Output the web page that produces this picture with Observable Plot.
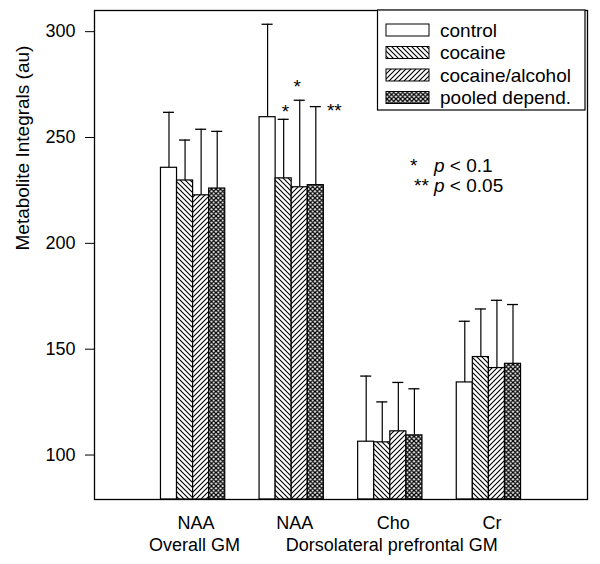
<!DOCTYPE html>
<html><head><meta charset="utf-8">
<script src="https://cdn.jsdelivr.net/npm/d3@7"></script>
<script src="https://cdn.jsdelivr.net/npm/@observablehq/plot@0.6"></script>
<style>
body{margin:0;background:#fff}
svg{font-family:"Liberation Sans",Arial,Helvetica,sans-serif}
</style>
</head><body><div id="chart"></div>
<script>
// ---- data ----
const groupLabels = ["NAA", "NAA", "Cho", "Cr"];
const regionLabels = ["Overall GM", "Dorsolateral prefrontal GM"];
const regionGroup = [1, 3];           // group position each region label is centred under
const series = ["control", "cocaine", "cocaine/alcohol", "pooled depend."];
const controlMeans = [235.7, 259.6, 106.3, 134.3];
const cocaineMeans = [229.7, 230.7, 106.0, 146.3];
const cocAlcMeans  = [222.7, 226.5, 111.2, 141.1];
const pooledMeans  = [225.9, 227.5, 109.3, 143.1];
const controlSD = [26.2, 43.9, 31.0, 28.9];
const cocaineSD = [19.1, 27.9, 19.1, 22.7];
const cocAlcSD  = [31.2, 41.1, 23.1, 32.0];
const pooledSD  = [27.0, 37.1, 22.0, 28.0];
const yTicks = [100, 150, 200, 250, 300];
const yTitle = "Metabolite Integrals (au)";
const sigMarks = [
  {group: 1, series: 1, label: "*"},
  {group: 1, series: 2, label: "*"},
  {group: 1, series: 3, label: "**"}
];
const sigNotes = [{stars: "*", text: " < 0.1"}, {stars: "**", text: " < 0.05"}];

// ---- layout ----
const means = [controlMeans, cocaineMeans, cocAlcMeans, pooledMeans];
const sds = [controlSD, cocaineSD, cocAlcSD, pooledSD];
const yDomain = [79, 310];
const xDomain = [0, 5];
const barW = 0.163, capHalf = 0.056;
const fills = ["white", "url(#hatch-coc)", "url(#hatch-ca)", "url(#hatch-pool)"];

const rows = [];
series.forEach((s, si) => groupLabels.forEach((g, gi) => {
  const c = gi + 1;
  rows.push({series: s, si, gi,
    x1: c + (si - 2) * barW, x2: c + (si - 1) * barW, xc: c + (si - 1.5) * barW,
    mean: means[si][gi], top: means[si][gi] + sds[si][gi]});
}));
const find = (gi, si) => rows.find(r => r.gi === gi && r.si === si);
const sigOffsets = [[1.7, -7.5], [-2.6, -12.9], [18.5, 4.75]];

const chart = Plot.plot({
  width: 600, height: 564,
  marginLeft: 94, marginRight: 13, marginTop: 10, marginBottom: 65,
  style: {fontSize: "18px", color: "black", background: "white", fontFamily: "Liberation Sans, Arial, sans-serif"},
  x: {domain: xDomain, axis: null},
  y: {domain: yDomain, ticks: yTicks, tickSize: 9, tickPadding: 10, label: null, tickFormat: d => String(d)},
  color: {type: "ordinal", domain: series, range: fills},
  marks: [
    Plot.rect(rows, {x1: "x1", x2: "x2", y1: () => yDomain[0], y2: "mean", fill: "series", stroke: "black", strokeWidth: 1.2}),
    Plot.ruleX(rows, {x: "xc", y1: "mean", y2: "top", stroke: "black", strokeWidth: 1.2}),
    Plot.ruleY(rows, {y: "top", x1: d => d.xc - capHalf, x2: d => d.xc + capHalf, stroke: "black", strokeWidth: 1.3}),
    Plot.frame({stroke: "black", strokeWidth: 1.3}),
    Plot.text(groupLabels.map((g, i) => ({g, pos: i + 1})), {x: "pos", frameAnchor: "bottom", text: "g", lineAnchor: "top", dx: 3, dy: 17, fontSize: 18}),
    Plot.text(regionLabels.map((r, i) => ({r, pos: regionGroup[i]})), {x: "pos", frameAnchor: "bottom", text: "r", lineAnchor: "top", dx: 1.5, dy: 39, fontSize: 18}),
    Plot.text([yTitle], {frameAnchor: "left", rotate: -90, dx: -72, dy: -4.5, fontSize: 19}),
    ...sigMarks.map((m, i) => Plot.text([find(m.group, m.series)], {x: "xc", y: "top", text: () => m.label, dx: sigOffsets[i][0], dy: sigOffsets[i][1], fontSize: 19}))
  ]
});
document.getElementById("chart").appendChild(chart);

// ---- hatch patterns ----
const svg = d3.select(chart);
const defs = svg.insert("defs", ":first-child");
function pattern(id, s, d, sw) {
  const p = defs.append("pattern").attr("id", id).attr("patternUnits", "userSpaceOnUse").attr("width", s).attr("height", s);
  p.append("rect").attr("width", s).attr("height", s).attr("fill", "white");
  p.append("path").attr("d", d).attr("stroke", "black").attr("stroke-width", sw).attr("fill", "none");
}
const s = 5;
const down = `M0,0L${s},${s}M-1,${s - 1}L1,${s + 1}M${s - 1},-1L${s + 1},1`;
const up = `M0,${s}L${s},0M-1,1L1,-1M${s - 1},${s + 1}L${s + 1},${s - 1}`;
pattern("hatch-coc", s, down, 1.1);
pattern("hatch-ca", s, up, 1.1);
pattern("hatch-pool", 4.5, `M0,0L4.5,4.5M-1,3.5L1,5.5M3.5,-1L5.5,1M0,4.5L4.5,0M-1,1L1,-1M3.5,5.5L5.5,3.5`, 1.3);

// ---- legend ----
const lg = svg.append("g").attr("font-size", 19).attr("text-anchor", "start");
lg.append("rect").attr("x", 377.5).attr("y", 10).attr("width", 207.5).attr("height", 100)
  .attr("fill", "white").attr("stroke", "black").attr("stroke-width", 1.2);
series.forEach((name, i) => {
  const cy = 30 + i * 22.5;
  lg.append("rect").attr("x", 386).attr("y", cy - 6).attr("width", 43).attr("height", 12)
    .attr("fill", fills[i]).attr("stroke", "black").attr("stroke-width", 1);
  lg.append("text").attr("x", 440).attr("y", cy).attr("dy", "0.35em").attr("fill", "black")
    .attr("text-anchor", "start").text(name);
});

// ---- significance note ----
const note = svg.append("g").attr("font-size", 19).attr("fill", "black").attr("text-anchor", "start");
sigNotes.forEach((n, i) => {
  const t = note.append("text").attr("y", 171.7 + i * 20).attr("text-anchor", "start");
  t.append("tspan").attr("x", i === 0 ? 410 : 414).text(n.stars);
  t.append("tspan").attr("x", 434).attr("font-style", "italic").text("p");
  t.append("tspan").text(n.text);
});
</script>
</body></html>
